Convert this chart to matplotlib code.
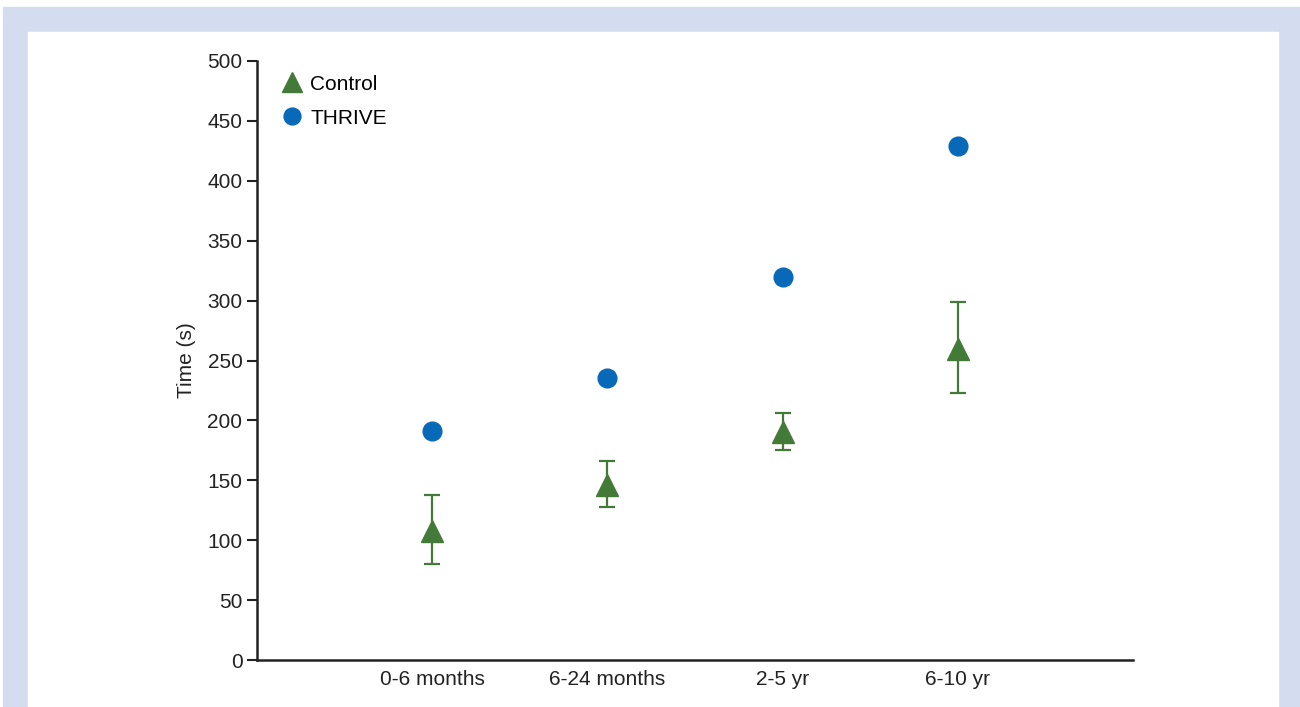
import matplotlib
matplotlib.use("Agg")
import matplotlib.pyplot as plt
from matplotlib.patches import Rectangle
import numpy as np

categories = ["0-6 months", "6-24 months", "2-5 yr", "6-10 yr"]
thrive = [191, 235, 320, 429]
control = [108, 146, 190, 260]
control_low = [80, 128, 175, 223]
control_high = [138, 166, 206, 299]

green = "#447a37"
blue = "#0869b9"
W, H = 1300, 707

plt.rcParams["font.family"] = ["Liberation Sans", "DejaVu Sans"]

fig = plt.figure(figsize=(13, 7.07), dpi=100)
fig.patch.set_facecolor("white")
# light blue frame around the white panel (kept behind the axes)
fig.patches.append(Rectangle((3 / W, 0), (1300 - 3) / W, (H - 7) / H,
                             transform=fig.transFigure, color="#d4ddef", zorder=-10))
fig.patches.append(Rectangle((28 / W, 0), (1278 - 28) / W, (H - 32) / H,
                             transform=fig.transFigure, color="white", zorder=-9))

ax = fig.add_axes([257 / W, (H - 660) / H, (1133 - 257) / W, (660 - 61) / H])
ax.set_facecolor("none")

x = np.arange(1, len(categories) + 1)
yerr = [np.subtract(control, control_low), np.subtract(control_high, control)]
ax.errorbar(x, control, yerr=yerr, fmt="none", ecolor=green, elinewidth=1.6,
            capsize=5.5, capthick=1.6, zorder=2)
ax.plot(x, control, linestyle="none", marker="^", markersize=15.5, color=green,
        label="Control", zorder=3)
ax.plot(x, thrive, linestyle="none", marker="o", markersize=13.5, color=blue,
        label="THRIVE", zorder=3)

ax.set_xlim(0, 5)
ax.set_ylim(0, 500)
ax.set_yticks(range(0, 501, 50))
ax.set_xticks(x)
ax.set_xticklabels(categories)
ax.tick_params(axis="x", length=0, pad=7, labelsize=15, colors="#222222")
ax.tick_params(axis="y", length=7, width=1.5, labelsize=15, colors="#222222")
ax.set_ylabel("Time (s)", fontsize=15, color="#222222", labelpad=8)
for side in ["top", "right"]:
    ax.spines[side].set_visible(False)
for side in ["left", "bottom"]:
    ax.spines[side].set_linewidth(1.8)
    ax.spines[side].set_color("#222222")

ax.legend(loc="upper left", bbox_to_anchor=(0.0, 1.012), frameon=False,
          fontsize=15, handletextpad=0.15, labelspacing=0.72, markerscale=0.9,
          handlelength=1.4, borderaxespad=0.6)

fig.savefig("out.png", dpi=100)
